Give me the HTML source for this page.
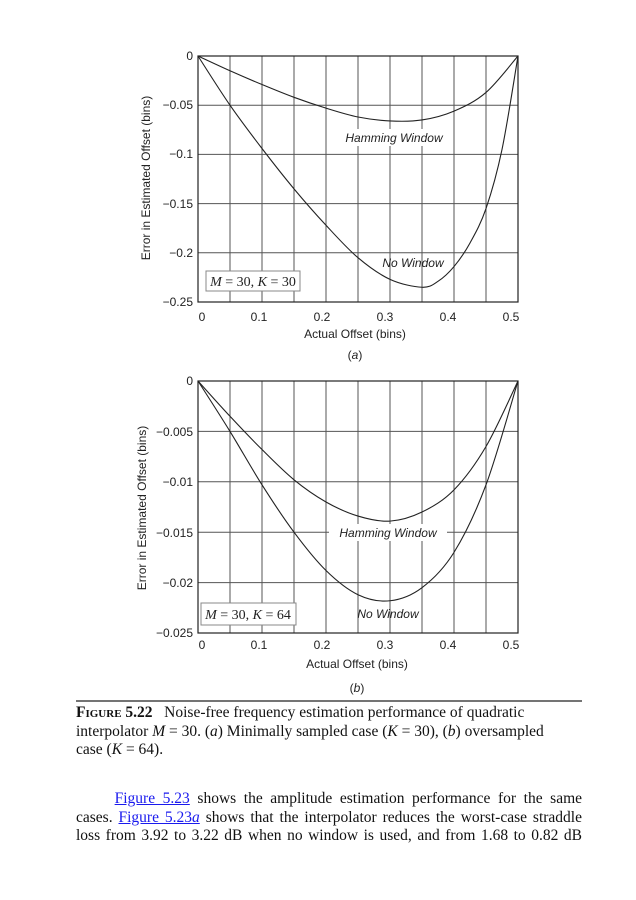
<!DOCTYPE html>
<html><head><meta charset="utf-8"><style>
body{margin:0;background:#fff;width:636px;height:900px;position:relative;overflow:hidden}
svg{position:absolute;left:0;top:0}
.t{position:absolute;left:76px;width:506px;font-family:"Liberation Serif",serif;font-size:15.5px;color:#111;line-height:18.5px}
.p{text-align:justify;text-align-last:justify}
a{color:#1a1aee;text-decoration:underline}
</style></head><body>
<svg width="636" height="900" font-family="Liberation Sans, sans-serif" font-size="12" fill="#222">
<g id="g1" stroke="#555" stroke-width="1" fill="none"></g>
<g id="g2" stroke="#555" stroke-width="1" fill="none"></g>
<rect x="198" y="56" width="320" height="246" fill="none" stroke="#222" stroke-width="1.2"/>
<rect x="198" y="381" width="320" height="252" fill="none" stroke="#222" stroke-width="1.2"/>
<rect x="338" y="129" width="112" height="17" fill="#fff"/>
<rect x="329" y="524" width="118" height="17" fill="#fff"/>
<g id="c" stroke="#222" stroke-width="1.1" fill="none"></g>
<g text-anchor="end">
<text x="193" y="60">0</text><text x="193" y="109">−0.05</text><text x="193" y="158">−0.1</text><text x="193" y="208">−0.15</text><text x="193" y="257">−0.2</text><text x="193" y="306">−0.25</text>
<text x="193" y="385">0</text><text x="193" y="436">−0.005</text><text x="193" y="486">−0.01</text><text x="193" y="537">−0.015</text><text x="193" y="587">−0.02</text><text x="193" y="637">−0.025</text>
</g>
<g text-anchor="middle">
<text x="202" y="321">0</text><text x="259" y="321">0.1</text><text x="322" y="321">0.2</text><text x="385" y="321">0.3</text><text x="448" y="321">0.4</text><text x="511" y="321">0.5</text>
<text x="202" y="649">0</text><text x="259" y="649">0.1</text><text x="322" y="649">0.2</text><text x="385" y="649">0.3</text><text x="448" y="649">0.4</text><text x="511" y="649">0.5</text>
<text x="355" y="338">Actual Offset (bins)</text><text x="355" y="359">(<tspan font-style="italic">a</tspan>)</text>
<text x="357" y="668">Actual Offset (bins)</text><text x="357" y="692">(<tspan font-style="italic">b</tspan>)</text>
<text transform="translate(150,178) rotate(-90)">Error in Estimated Offset (bins)</text>
<text transform="translate(146,508) rotate(-90)">Error in Estimated Offset (bins)</text>
<g font-style="italic"><text x="394" y="142">Hamming Window</text><text x="413" y="267">No Window</text>
<text x="388" y="537">Hamming Window</text><text x="388" y="618">No Window</text></g>
</g>
<rect x="206" y="271" width="94" height="20" fill="#fff" stroke="#888"/>
<text x="253" y="286" text-anchor="middle" font-family="Liberation Serif, serif" font-size="14"><tspan font-style="italic">M</tspan> = 30, <tspan font-style="italic">K</tspan> = 30</text>
<rect x="201" y="603" width="95" height="22" fill="#fff" stroke="#888"/>
<text x="248" y="619" text-anchor="middle" font-family="Liberation Serif, serif" font-size="14"><tspan font-style="italic">M</tspan> = 30, <tspan font-style="italic">K</tspan> = 64</text>
<line x1="76" y1="701" x2="582" y2="701" stroke="#222" stroke-width="1.3"/>
</svg>
<div class="t" style="top:704px;white-space:nowrap"><b style="font-variant:small-caps">Figure 5.22</b>&nbsp;&nbsp; Noise-free frequency estimation performance of quadratic<br>interpolator <i>M</i> = 30. (<i>a</i>) Minimally sampled case (<i>K</i> = 30), (<i>b</i>) oversampled<br>case (<i>K</i> = 64).</div>
<div class="t p" style="top:790px;text-indent:31px">&nbsp;<a>Figure 5.23</a> shows the amplitude estimation performance for the same</div>
<div class="t p" style="top:809px"><span>cases. <a>Figure 5.23<i>a</i></a> shows that the interpolator reduces the worst-case straddle</span></div>
<div class="t p" style="top:827px">loss from 3.92 to 3.22 dB when no window is used, and from 1.68 to 0.82 dB</div>
<script>
var ns="http://www.w3.org/2000/svg";
function X(x){return 198+x/0.5*320}
function add(g,d){var p=document.createElementNS(ns,"path");p.setAttribute("d",d);document.getElementById(g).appendChild(p)}
for(var i=1;i<10;i++){add("g1","M"+X(i*0.05)+" 56V302");add("g2","M"+X(i*0.05)+" 381V633")}
for(var j=1;j<5;j++){add("g1","M198 "+(56+j*49.2)+"H518");add("g2","M198 "+(381+j*50.4)+"H518")}
function curve(xs,vals,Y){var pts=vals.map(function(v,i){return [X(xs[i]),Y(v)]});
var d="M"+pts[0][0]+" "+pts[0][1];
for(var i=0;i<pts.length-1;i++){var p0=pts[Math.max(i-1,0)],p1=pts[i],p2=pts[i+1],p3=pts[Math.min(i+2,pts.length-1)];
d+="C"+(p1[0]+(p2[0]-p0[0])/6)+" "+(p1[1]+(p2[1]-p0[1])/6)+" "+(p2[0]-(p3[0]-p1[0])/6)+" "+(p2[1]-(p3[1]-p1[1])/6)+" "+p2[0]+" "+p2[1];}
add("c",d)}
var Y1=function(v){return 56-v/0.25*246},Y2=function(v){return 381-v/0.025*252};
var s=[0,0.05,0.1,0.15,0.2,0.25,0.3,0.35,0.4,0.45,0.5];
curve([0,0.05,0.1,0.15,0.2,0.25,0.3,0.35,0.375,0.4,0.425,0.45,0.475,0.5],[0,-0.05,-0.094,-0.135,-0.172,-0.205,-0.227,-0.235,-0.229,-0.214,-0.19,-0.155,-0.095,0],Y1);
curve(s,[0,-0.015,-0.029,-0.042,-0.053,-0.062,-0.066,-0.065,-0.056,-0.037,0],Y1);
curve(s,[0,-0.005,-0.0103,-0.015,-0.0188,-0.0212,-0.0218,-0.0205,-0.017,-0.0103,0],Y2);
curve(s,[0,-0.0035,-0.0068,-0.0098,-0.012,-0.0134,-0.0139,-0.013,-0.0108,-0.0065,0],Y2);
</script>
</body></html>
